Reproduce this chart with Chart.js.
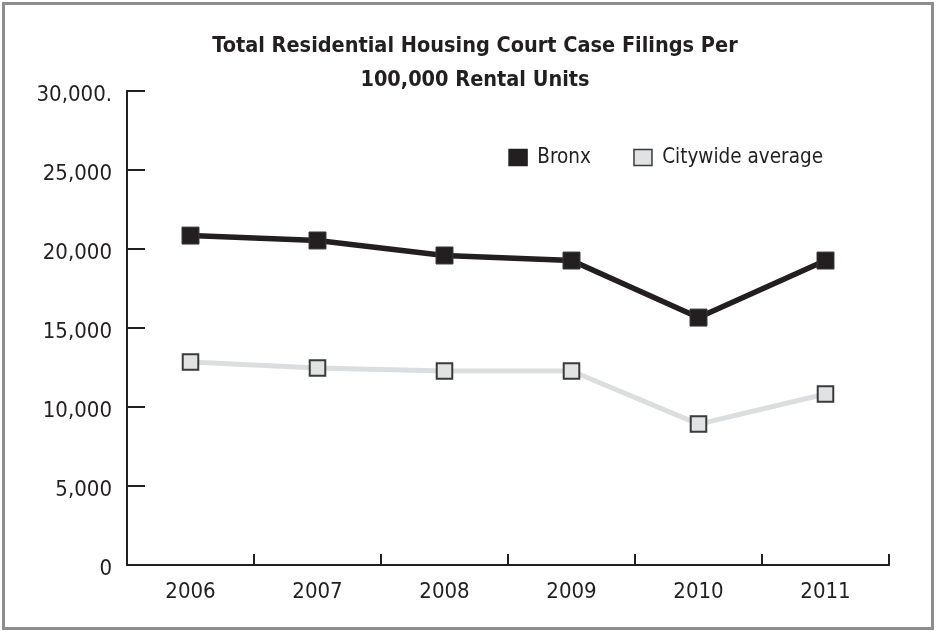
<!DOCTYPE html>
<html>
<head>
<meta charset="utf-8">
<script src="https://cdn.jsdelivr.net/npm/chart.js@4.4.1/dist/chart.umd.min.js"></script>
<style>
  html, body { margin: 0; padding: 0; background: #ffffff; }
  #wrap { position: relative; width: 936px; height: 632px; }
  #frame { position: absolute; left: 2px; top: 2px; right: 2px; bottom: 2px; border: 3px solid #8d8d8d; }
  canvas { position: absolute; left: 0; top: 0; }
</style>
</head>
<body>
<div id="wrap">
  <div id="frame"></div>
  <canvas id="c" width="936" height="632"></canvas>
</div>
<script>
// Years on the horizontal axis
const years = ['2006', '2007', '2008', '2009', '2010', '2011'];

// Case filings per 100,000 rental units
const bronx = [20850, 20540, 19590, 19270, 15660, 19270];
const citywide = [12850, 12470, 12280, 12280, 8920, 10820];

// Vertical axis labels, bottom to top
const yTickLabels = ['0', '5,000', '10,000', '15,000', '20,000', '25,000', '30,000.'];

const INK = '#231f20';
const FONT = "'DejaVu Sans Condensed', 'DejaVu Sans', sans-serif";

const axisTicks = {
  id: 'axisTicks',
  afterLayout(chart) {
    const area = chart.chartArea;
    // title centred over the framed page, a little right of middle
    const t = chart.titleBlock;
    if (t) {
      t.left = 14;
      t.right = chart.width;
      t.width = t.right - t.left;
    }
    // the legend sits inside the plot, near its top right corner
    const lg = chart.legend;
    if (lg) {
      lg.left = area.left;
      lg.right = area.right - 23;
      lg.top = area.top;
      lg.bottom = area.top + 100;
      lg.width = lg.right - lg.left;
      lg.height = 100;
    }
  },
  // short inward tick marks on both axes
  afterDraw(chart) {
    const {ctx, chartArea, scales} = chart;
    const x = scales.x, y = scales.y;
    ctx.save();
    ctx.strokeStyle = INK;
    ctx.lineWidth = 2;
    ctx.beginPath();
    y.ticks.forEach(t => {
      const py = Math.round(y.getPixelForValue(t.value));
      ctx.moveTo(chartArea.left, py);
      ctx.lineTo(chartArea.left + 18, py);
    });
    const half = (x.getPixelForValue(1) - x.getPixelForValue(0)) / 2;
    for (let i = 0; i < years.length; i++) {
      const px = Math.round(x.getPixelForValue(i) + half);
      ctx.moveTo(px, chartArea.bottom);
      ctx.lineTo(px, chartArea.bottom - 11);
    }
    ctx.stroke();
    ctx.restore();
  }
};

new Chart(document.getElementById('c'), {
  type: 'line',
  data: {
    labels: years,
    datasets: [
      {
        label: 'Bronx',
        data: bronx,
        borderColor: INK,
        backgroundColor: INK,
        borderWidth: 5.5,
        pointStyle: 'rect',
        pointRadius: 12,
        pointHoverRadius: 12,
        pointBackgroundColor: INK,
        pointBorderColor: '#3c393a',
        pointBorderWidth: 1,
        tension: 0
      },
      {
        label: 'Citywide average',
        data: citywide,
        borderColor: '#dcdddf',
        backgroundColor: '#e1e2e3',
        borderWidth: 5,
        pointStyle: 'rect',
        pointRadius: 11,
        pointHoverRadius: 11,
        pointBackgroundColor: '#e1e2e3',
        pointBorderColor: '#3a3a3a',
        pointBorderWidth: 2,
        tension: 0
      }
    ]
  },
  options: {
    responsive: false,
    animation: false,
    clip: false,
    layout: { padding: { left: 0, right: 47, top: 0, bottom: 0 } },
    plugins: {
      title: {
        display: true,
        text: ['Total Residential Housing Court Case Filings Per', '100,000 Rental Units'],
        color: INK,
        font: { family: FONT, size: 21.5, weight: 'bold', lineHeight: 34 / 21.5 },
        padding: { top: 29, bottom: -6 }
      },
      legend: {
        position: 'top',
        align: 'end',
        maxHeight: 0.01,
        title: { display: true, text: '', font: { size: 1 }, padding: { top: 12, bottom: 0 } },
        labels: {
          color: INK,
          font: { family: FONT, size: 20.5 },
          boxWidth: 18,
          boxHeight: 16,
          padding: 43,
          generateLabels(chart) {
            return chart.data.datasets.map((ds, i) => ({
              text: ds.label,
              fillStyle: ds.backgroundColor,
              strokeStyle: i === 0 ? INK : '#3a3a3a',
              lineWidth: 1.5,
              hidden: false,
              datasetIndex: i,
              fontColor: INK
            }));
          }
        }
      },
      tooltip: { enabled: false }
    },
    scales: {
      x: {
        type: 'category',
        offset: true,
        grid: { display: false, drawTicks: false },
        border: { display: true, color: INK, width: 2 },
        ticks: { color: INK, font: { family: FONT, size: 22 }, padding: 14, maxRotation: 0 },
        afterFit(scale) { scale.height = 67; }
      },
      y: {
        min: 0,
        max: 30000,
        grid: { display: false, drawTicks: false },
        border: { display: true, color: INK, width: 2 },
        ticks: {
          stepSize: 5000,
          color: INK,
          padding: 15,
          labelOffset: 4,
          font: { family: FONT, size: 22 },
          callback: (v) => yTickLabels[Math.round(v / 5000)]
        },
        afterFit(scale) { scale.width = 127; }
      }
    }
  },
  plugins: [axisTicks]
});
</script>
</body>
</html>
